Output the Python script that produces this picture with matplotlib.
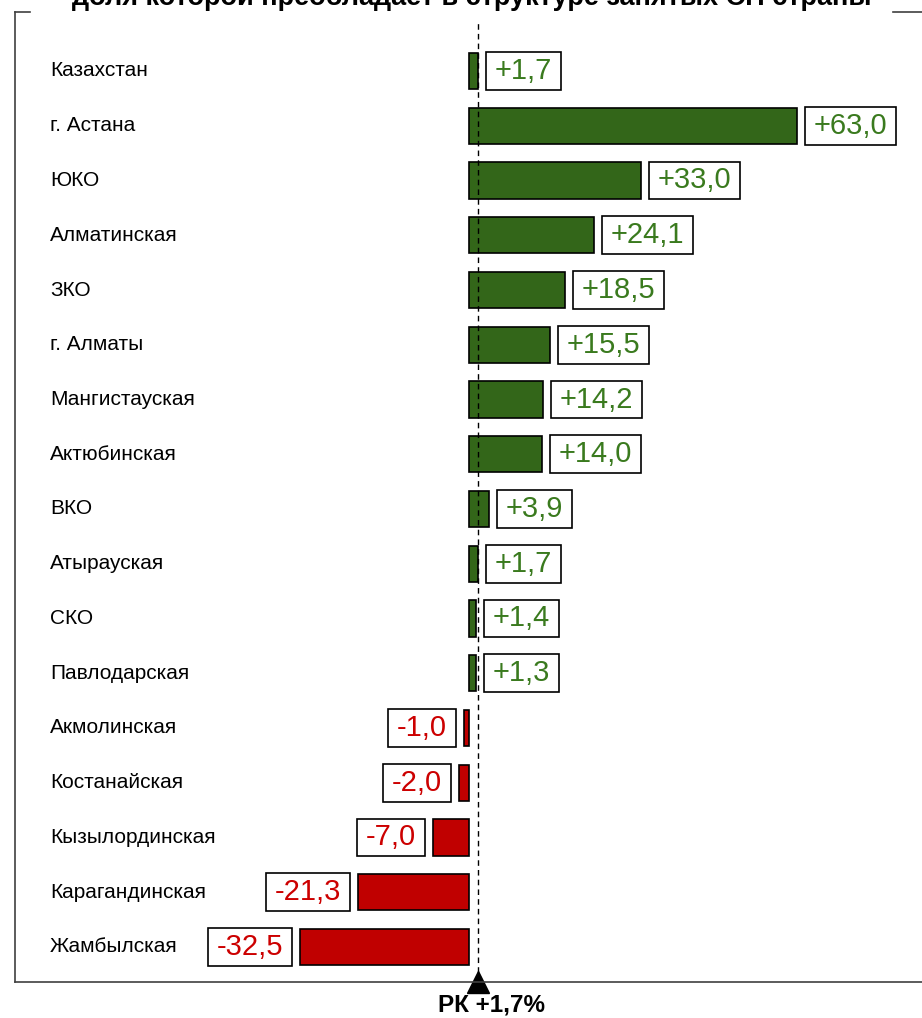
import matplotlib
matplotlib.use('Agg')
from matplotlib import pyplot as plt
from matplotlib.lines import Line2D

plt.rcParams['font.family'] = ['Liberation Sans', 'DejaVu Sans']

regions = ['Казахстан', 'г. Астана', 'ЮКО', 'Алматинская', 'ЗКО', 'г. Алматы',
           'Мангистауская', 'Актюбинская', 'ВКО', 'Атырауская', 'СКО',
           'Павлодарская', 'Акмолинская', 'Костанайская', 'Кызылординская',
           'Карагандинская', 'Жамбылская']
values = [1.7, 63.0, 33.0, 24.1, 18.5, 15.5, 14.2, 14.0, 3.9, 1.7, 1.4,
          1.3, -1.0, -2.0, -7.0, -21.3, -32.5]
rk_value = 1.7
title = 'доля которой преобладает в структуре занятых СН страны'

W, H = 922, 1018
fig = plt.figure(figsize=(W / 100, H / 100), dpi=100)
ax = fig.add_axes([0, 0, 1, 1])

# pixel layout -> data limits
x0, scale = 469, 5.2
y0, step = 71, 54.75
ax.set_xlim((0 - x0) / scale, (W - x0) / scale)
ax.set_ylim((H - y0) / step, (0 - y0) / step)
ax.axis('off')

bar_green, bar_red = '#336619', '#c00000'
txt_green, txt_red = '#3a7a1e', '#cc0000'

ypos = list(range(len(regions)))
colors = [bar_green if v >= 0 else bar_red for v in values]
ax.barh(ypos, values, height=0.66, color=colors, edgecolor='black', linewidth=1.2, zorder=2)

ax.axvline(rk_value, ymin=(H - 982) / H, ymax=(H - 22) / H, color='black',
           linestyle=(0, (4, 3)), linewidth=1, zorder=3)

for y, v, name in zip(ypos, values, regions):
    ax.text(50 / W, y, name, transform=ax.get_yaxis_transform(), ha='left', va='center',
            fontsize=15, color='black')
    lab = ('+' if v > 0 else '') + ('%.1f' % v).replace('.', ',')
    if v >= 0:
        off, ha, tc = 12, 'left', txt_green
    else:
        off, ha, tc = -12, 'right', txt_red
    ax.annotate(lab, (v, y), xytext=(off, 0), textcoords='offset points', ha=ha, va='center',
                fontsize=21, color=tc,
                bbox=dict(boxstyle='square,pad=0.3', mutation_aspect=0.55,
                          fc='white', ec='black', lw=1.2))

# frame
fc = '#404040'
def fline(xs, ys):
    fig.add_artist(Line2D([x / W for x in xs], [1 - y / H for y in ys], color=fc, lw=1.2,
                          transform=fig.transFigure))
fline([15, 15], [12, 982])
fline([15, W], [982, 982])
fline([15, 30], [12, 12])
fline([893, W], [12, 12])

fig.text(472 / W, 1 + 2 / H, title, ha='center', va='center', fontsize=19.5, fontweight='bold')

# RK marker
ax.plot([rk_value], [(982 - y0) / step], marker='^', markersize=16, color='black',
        clip_on=False, zorder=4)
fig.text(492 / W, 1 - 1005 / H, 'РК +1,7%', ha='center', va='center', fontsize=17.5,
         fontweight='bold')

plt.savefig('out.png', dpi=100)
